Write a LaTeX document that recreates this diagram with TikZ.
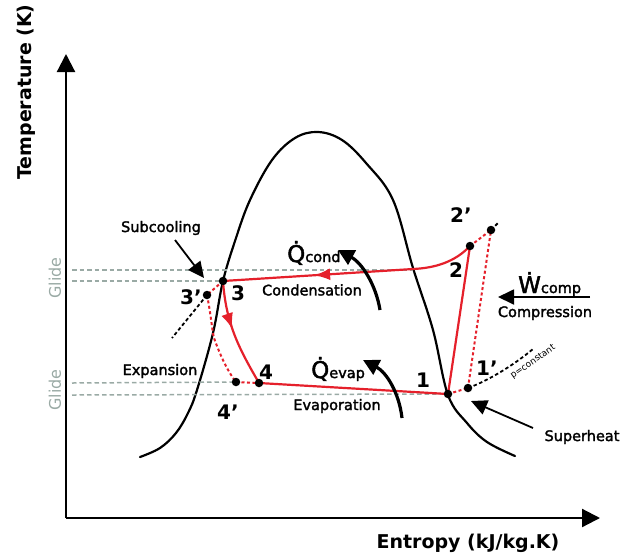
\documentclass[tikz,border=0pt]{standalone}
\usepackage{fontspec}
\setmainfont{DejaVu Sans}
\newfontfamily\semib[FakeBold=2]{DejaVu Sans}
\usetikzlibrary{arrows.meta,decorations.markings}
\definecolor{myred}{HTML}{E5202B}
\definecolor{glidegray}{HTML}{9AAAA5}
\tikzset{
  bell/.style={line width=2.2pt, line cap=round},
  axisl/.style={line width=2.2pt, -{Triangle[length=18pt,width=18pt]}},
  redl/.style={draw=myred, line width=2.2pt, line join=round},
  redd/.style={draw=myred, line width=2pt, dash pattern=on 3pt off 2.5pt},
  blkd/.style={line width=1.8pt, dash pattern=on 3.5pt off 2.5pt},
  glided/.style={draw=glidegray, line width=1.5pt, dash pattern=on 4.5pt off 3pt},
  dot/.style={circle, fill=black, inner sep=0pt, minimum size=8.5pt},
  lbl/.style={font=\semib\fontsize{14.5}{16}\selectfont, inner sep=0pt},
  num/.style={font=\bfseries\fontsize{20}{21}\selectfont, inner sep=0pt},
  axlab/.style={font=\bfseries\fontsize{19}{20}\selectfont, inner sep=0pt},
  glidelab/.style={font=\fontsize{16}{17}\selectfont, text=glidegray, rotate=90, inner sep=0pt},
  qlab/.style={font=\semib\fontsize{23}{24}\selectfont, inner sep=0pt},
  qarrow/.style={line width=3.2pt, -{Triangle[length=16pt,width=16pt]}},
  thinarrow/.style={line width=1.8pt, -{Triangle[length=16pt,width=15pt]}},
  redarrow/.style={postaction={decorate}, decoration={markings, mark=at position #1 with {\arrow{Latex[length=16pt,width=12pt]}}}},
}
\newcommand{\qsub}[1]{{\fontsize{14.5}{15}\selectfont #1}}
\begin{document}
\begin{tikzpicture}[x=1pt,y=-1pt]
\useasboundingbox (0,0) rectangle (637,558);
% axes
\coordinate (o) at (66,518);
\coordinate (ytip) at (66,54);
\coordinate (xtip) at (600,518);
\draw[axisl] (o) -- (ytip);
\draw[axisl] (o) -- (xtip);
\node[axlab, rotate=90] (tlab) at (26,92) {Temperature (K)};
\node[axlab] (slab) at (468,543) {Entropy (kJ/kg.K)};

% bell curve
\draw[bell] plot[smooth, tension=0.6] coordinates {
 (140,457) (160,448) (176,433) (188,413) (197,390) (213,333) (223,281)
 (236,238) (250,200) (272,160) (295,138) (318,132) (342,140) (366,163)
 (393,200) (413,268) (433,330) (448,395) (467,423) (487,442) (515,456)};

% glide lines
\coordinate (g1) at (72,270);
\coordinate (g1e) at (413,270);
\coordinate (g2) at (72,281);
\coordinate (g3) at (72,383);
\coordinate (g4) at (72,395);
\coordinate (c1) at (448,394);
\coordinate (c1p) at (468,388);
\coordinate (c2) at (470,246);
\coordinate (c2p) at (491,230);
\coordinate (c3) at (223,281);
\coordinate (c3p) at (207,295);
\coordinate (c4) at (259,383);
\coordinate (c4p) at (236,382);
\draw[glided] (g1) -- (g1e);
\draw[glided] (g2) -- (c3);
\draw[glided] (g3) -- (c4p);
\draw[glided] (g4) -- (c1);
\node[glidelab] (gl1) at (55,278) {Glide};
\node[glidelab] (gl2) at (55,390) {Glide};

% black dashed extensions
\coordinate (e3) at (172,338);
\coordinate (e1) at (533,349);
\coordinate (e2) at (499,222);
\draw[blkd] (c3p) -- (e3);
\draw[blkd] (c1p) .. controls (490,380) and (515,364) .. (e1);
\draw[blkd] (c2p) -- (e2);

% red dashed (real cycle)
\draw[redd] (c3) -- (c3p);
\draw[redd] (c3p) .. controls (211,315) and (212,330) .. (214,338) .. controls (220,355) and (228,372) .. (c4p);
\draw[redd] (c4p) -- (c4);
\draw[redd] (c1) -- (c1p);
\draw[redd] (c1p) -- (c2p);
\draw[redd] (c2) -- (c2p);

% red solid (ideal cycle)
\draw[redl] (c4) -- (c1) -- (c2);
\draw[redl, redarrow=0.64] (c2) .. controls (455,262) and (435,268) .. (413,269) -- (c3);
\draw[redl, redarrow=0.45] (c3) .. controls (226,325) and (240,350) .. (c4);

% dots
\node[dot] (d1) at (c1) {};
\node[dot] (d1p) at (c1p) {};
\node[dot] (d2) at (c2) {};
\node[dot] (d2p) at (c2p) {};
\node[dot] (d3) at (c3) {};
\node[dot] (d3p) at (c3p) {};
\node[dot] (d4) at (c4) {};
\node[dot] (d4p) at (c4p) {};

% point labels
\node[num] (n1) at (423,380) {1};
\node[num] (n1p) at (487,368) {1'};
\node[num] (n2) at (456,270) {2};
\node[num] (n2p) at (461,215) {2'};
\node[num] (n3) at (238,293) {3};
\node[num] (n3p) at (191,297) {3'};
\node[num] (n4) at (266,372) {4};
\node[num] (n4p) at (228,412) {4'};

% process labels
\node[lbl] (subc) at (161,228) {Subcooling};
\node[lbl] (cond) at (312,290) {Condensation};
\node[lbl] (evap) at (337,406) {Evaporation};
\node[lbl] (expn) at (160,371) {Expansion};
\node[lbl] (comp) at (545,313) {Compression};
\node[lbl] (suph) at (582,437) {Superheat};
\node[inner sep=0pt, font=\fontsize{9}{10}\selectfont, rotate=35] (pc) at (533,362) {p=constant};

% heat / work labels
\node[qlab, anchor=base west] (qc) at (287,262) {\.{Q}\qsub{cond}};
\node[qlab, anchor=base west] (qe) at (311,378) {\.{Q}\qsub{evap}};
\node[qlab, anchor=base west] (wc) at (518,293) {\.{W}\qsub{comp}};

% arrows
\coordinate (qct) at (380,310);
\coordinate (qch) at (338,250);
\draw[qarrow] (qct) .. controls (376,285) and (362,263) .. (qch);
\coordinate (qet) at (402,418);
\coordinate (qeh) at (363,360);
\draw[qarrow] (qet) .. controls (399,392) and (386,372) .. (qeh);
\coordinate (wt) at (590,297);
\coordinate (wh) at (498,297);
\draw[thinarrow] (wt) -- (wh);
\coordinate (st) at (175,240);
\coordinate (sh) at (204,278);
\draw[thinarrow] (st) -- (sh);
\coordinate (ht) at (533,428);
\coordinate (hh) at (471,401);
\draw[thinarrow] (ht) -- (hh);
\end{tikzpicture}
\end{document}
